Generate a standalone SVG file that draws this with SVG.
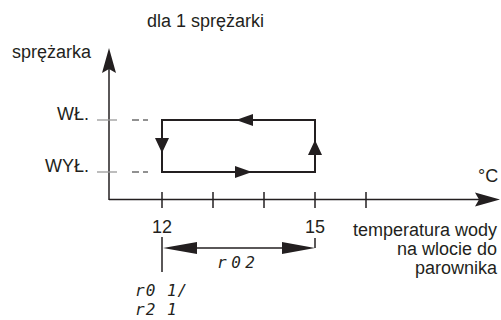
<svg xmlns="http://www.w3.org/2000/svg" width="501" height="320" viewBox="0 0 501 320">
<style>
.t{font-family:"Liberation Sans",Arial,sans-serif;font-size:18px;fill:#231f20}
.n{font-family:"Liberation Sans",Arial,sans-serif;font-size:18px;fill:#231f20}
.seg{font-family:"DejaVu Sans Mono",monospace;font-style:italic;font-size:16px;fill:#231f20}
.ax{stroke:#231f20;stroke-width:1.5;fill:none}
.cyc{stroke:#231f20;stroke-width:2;fill:none}
.ah{fill:#231f20}
.dash{stroke:#555;stroke-width:1.3}
</style>
<rect width="501" height="320" fill="#fff"/>
<g id="connectors">
  <line class="ax" x1="109" y1="200" x2="109" y2="66"/>
  <polygon class="ah" points="109,48 102,73 109,69 116,73"/>
  <line class="ax" x1="109" y1="199.5" x2="485" y2="199.5"/>
  <polygon class="ah" points="500,199.5 475,192.5 479,199.5 475,206.5"/>
  <g class="ax">
    <line x1="162" y1="192" x2="162" y2="208"/>
    <line x1="213" y1="192" x2="213" y2="208"/>
    <line x1="264" y1="192" x2="264" y2="208"/>
    <line x1="315" y1="192" x2="315" y2="208"/>
    <line x1="366" y1="192" x2="366" y2="208"/>
  </g>
  <line x1="97" y1="120" x2="117" y2="120" stroke="#999" stroke-width="1.3"/>
  <line class="dash" x1="132" y1="120" x2="139" y2="120"/>
  <line class="dash" x1="143" y1="120" x2="148" y2="120"/>
  <line x1="97" y1="172" x2="117" y2="172" stroke="#999" stroke-width="1.3"/>
  <line class="dash" x1="132" y1="172" x2="139" y2="172"/>
  <line class="dash" x1="143" y1="172" x2="148" y2="172"/>
  <rect class="cyc" x="162" y="120" width="153" height="52"/>
  <polygon class="ah" points="236,120 253,114 253,126"/>
  <polygon class="ah" points="252,172 235,166 235,178"/>
  <polygon class="ah" points="162,153 155,138 169,138"/>
  <polygon class="ah" points="315,140 308,155 322,155"/>
  <line class="ax" x1="162" y1="237" x2="162" y2="272"/>
  <line class="ax" x1="315" y1="238" x2="315" y2="248"/>
  <line class="ax" x1="190" y1="248" x2="290" y2="248"/>
  <polygon class="ah" points="163,248 197,242 197,254"/>
  <polygon class="ah" points="315,248 282,242 282,254"/>
</g>
<g id="title"><text class="t" x="147" y="27">dla 1 sprężarki</text></g>
<g id="y-label"><text class="t" x="12" y="58">sprężarka</text></g>
<g id="on-label"><text class="t" x="89" y="120" text-anchor="end">WŁ.</text></g>
<g id="off-label"><text class="t" x="89" y="172" text-anchor="end">WYŁ.</text></g>
<g id="unit"><text class="n" x="478" y="182">°C</text></g>
<g id="t12"><text class="n" x="162" y="233" text-anchor="middle">12</text></g>
<g id="t15"><text class="n" x="315" y="233" text-anchor="middle">15</text></g>
<g id="x-label">
  <text class="t" x="497" y="236" text-anchor="end">temperatura wody</text>
  <text class="t" x="497" y="255" text-anchor="end">na wlocie do</text>
  <text class="t" x="497" y="274" text-anchor="end">parownika</text>
</g>
<g id="r02"><text class="seg" x="217" y="268" letter-spacing="4.5">r02</text></g>
<g id="r01"><text class="seg" x="135" y="296" letter-spacing="1">r0 1/</text><text class="seg" x="135" y="315" letter-spacing="1">r2 1</text></g>
</svg>
